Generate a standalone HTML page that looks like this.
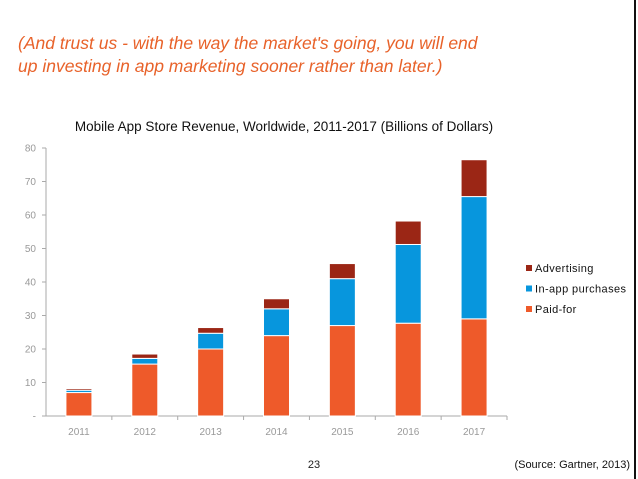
<!DOCTYPE html>
<html><head><meta charset="utf-8"><style>
body{margin:0;width:638px;height:479px;background:#fff;overflow:hidden;position:relative;font-family:"Liberation Sans",sans-serif}
.hd{position:absolute;left:18px;color:#e8622a;font-style:italic;font-size:17.5px;letter-spacing:0px;white-space:nowrap}
</style></head><body>
<div class="hd" style="top:33px">(And trust us - with the way the market's going, you will end</div>
<div class="hd" style="top:56px">up investing in app marketing sooner rather than later.)</div>
<div style="position:absolute;left:634px;top:0;width:2px;height:479px;background:#111"></div>
<svg id="c" width="638" height="479" style="position:absolute;left:0;top:0">
<text x="284" y="131" text-anchor="middle" font-size="13.5" fill="#111">Mobile App Store Revenue, Worldwide, 2011-2017 (Billions of Dollars)</text>
<text x="314" y="468" text-anchor="middle" font-size="11" fill="#222">23</text>
<text x="630" y="468" text-anchor="end" font-size="11" fill="#111">(Source: Gartner, 2013)</text>
</svg>
<script>
const years=["2011","2012","2013","2014","2015","2016","2017"];
const paid=[7,15.5,20,24,27,27.7,29];
const inapp=[0.7,1.7,4.7,8,14,23.5,36.5];
const ads=[0.5,1.3,1.7,3,4.5,7,11];
const yTicks=[0,10,20,30,40,50,60,70,80];
const yTickLabels=["-","10","20","30","40","50","60","70","80"];
const NS="http://www.w3.org/2000/svg",svg=document.getElementById('c');
const x0=46,x1=507,y0=416,y1=148,yMax=80;
const y=v=>y0-(v/yMax)*(y0-y1);
const bw=(x1-x0)/years.length;
const xc=i=>x0+bw*(i+0.5);
function mk(t,a){const e=document.createElementNS(NS,t);for(const k in a)e.setAttribute(k,a[k]);svg.appendChild(e);return e;}
let e=mk('line',{x1:x0,y1:y0,x2:x0,y2:y1,stroke:'#aaa'});

e=mk('line',{x1:x0,y1:y0,x2:x1,y2:y0,stroke:'#aaa'});

yTicks.forEach((v,i)=>{
 const t=mk('line',{x1:x0-4,y1:y(v),x2:x0,y2:y(v),stroke:'#aaa'});
 
 const l=mk('text',{x:x0-10,y:y(v)+3.5,'text-anchor':'end','font-size':10,fill:'#999'});l.textContent=yTickLabels[i];
 
});
for(let i=1;i<=years.length;i++){
 const t=mk('line',{x1:x0+bw*i,y1:y0,x2:x0+bw*i,y2:y0+4,stroke:'#aaa'});
 
}
const series=[[paid,'#ee5a2a','paid-for'],[inapp,'#0796dd','in-app'],[ads,'#9b2615','advertising']];
years.forEach((yr,i)=>{
 let base=0;
 series.forEach(([arr,col,nm])=>{
  const v=arr[i];
  const r=mk('rect',{x:xc(i)-13,y:y(base+v),width:26,height:y(base)-y(base+v),fill:col,stroke:'#fff','stroke-width':1});
  
  base+=v;
 });
 const l=mk('text',{x:xc(i),y:y0+19,'text-anchor':'middle','font-size':10,fill:'#999'});l.textContent=yr;
 
});
const leg=[['Advertising','#9b2615'],['In-app purchases','#0796dd'],['Paid-for','#ee5a2a']];
leg.forEach(([n,c],i)=>{
 const yy=271+i*20.5;
 const s=mk('rect',{x:526,y:yy-6,width:6,height:6,fill:c});
 
 const t=mk('text',{x:535,y:yy+1,'font-size':11,fill:'#111','letter-spacing':'0.4'});t.textContent=n;
 
});
</script>
</body></html>
